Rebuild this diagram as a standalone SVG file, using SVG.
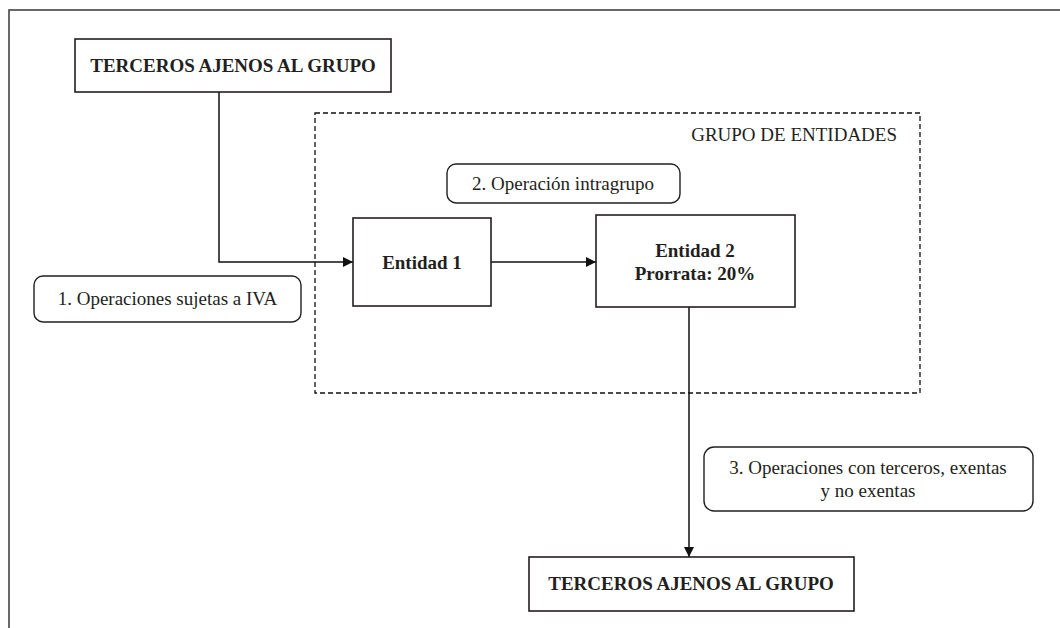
<svg xmlns="http://www.w3.org/2000/svg" width="1060" height="628" viewBox="0 0 1060 628">
<style>
.box{fill:#fff;stroke:#231f20;stroke-width:1.6}
.pill{fill:#fff;stroke:#231f20;stroke-width:1.4}
.bold{font-family:"Liberation Serif","Times New Roman",serif;font-size:19px;font-weight:bold;fill:#231f20;text-anchor:middle}
.reg{font-family:"Liberation Serif","Times New Roman",serif;font-size:19px;fill:#231f20;text-anchor:middle}
.conn{fill:none;stroke:#111;stroke-width:1.5}
</style>
<defs>
<marker id="arr" viewBox="0 0 10 10" refX="10" refY="5" markerWidth="10" markerHeight="10" markerUnits="userSpaceOnUse" orient="auto">
<path d="M0,0 L10,5 L0,10 Z" fill="#111"/>
</marker>
</defs>
<rect x="0" y="0" width="1060" height="628" fill="#fff"/>
<rect id="frame" x="9" y="10" width="1100" height="700" fill="none" stroke="#444" stroke-width="1.6"/>
<g id="grupo">
<rect x="315" y="113" width="605" height="280" fill="none" stroke="#111" stroke-width="1.3" stroke-dasharray="5,3"/>
<text class="reg" x="897" y="141" style="text-anchor:end">GRUPO DE ENTIDADES</text>
</g>
<g id="connectors">
<polyline class="conn" points="219,92 219,262 353,262" marker-end="url(#arr)"/>
<line class="conn" x1="491" y1="262" x2="596" y2="262" marker-end="url(#arr)"/>
<line class="conn" x1="689" y1="307" x2="689" y2="557" marker-end="url(#arr)"/>
</g>
<g id="terceros-top">
<rect class="box" x="75" y="39" width="316" height="53"/>
<text class="bold" x="233" y="72">TERCEROS AJENOS AL GRUPO</text>
</g>
<g id="entidad1">
<rect class="box" x="353" y="218" width="138" height="88"/>
<text class="bold" x="422" y="269">Entidad 1</text>
</g>
<g id="entidad2">
<rect class="box" x="596" y="215" width="199" height="92"/>
<text class="bold" x="695" y="257">Entidad 2</text>
<text class="bold" x="695" y="280">Prorrata: 20%</text>
</g>
<g id="terceros-bottom">
<rect class="box" x="529" y="557" width="325" height="54"/>
<text class="bold" x="691" y="590">TERCEROS AJENOS AL GRUPO</text>
</g>
<g id="label1">
<rect class="pill" x="34" y="276" width="267" height="46" rx="9"/>
<text class="reg" x="167.5" y="305">1. Operaciones sujetas a IVA</text>
</g>
<g id="label2">
<rect class="pill" x="447" y="164" width="233" height="39" rx="9"/>
<text class="reg" x="563" y="190">2. Operación intragrupo</text>
</g>
<g id="label3">
<rect class="pill" x="704" y="447" width="329" height="64" rx="10"/>
<text class="reg" x="868" y="474">3. Operaciones con terceros, exentas</text>
<text class="reg" x="868" y="497">y no exentas</text>
</g>
</svg>
